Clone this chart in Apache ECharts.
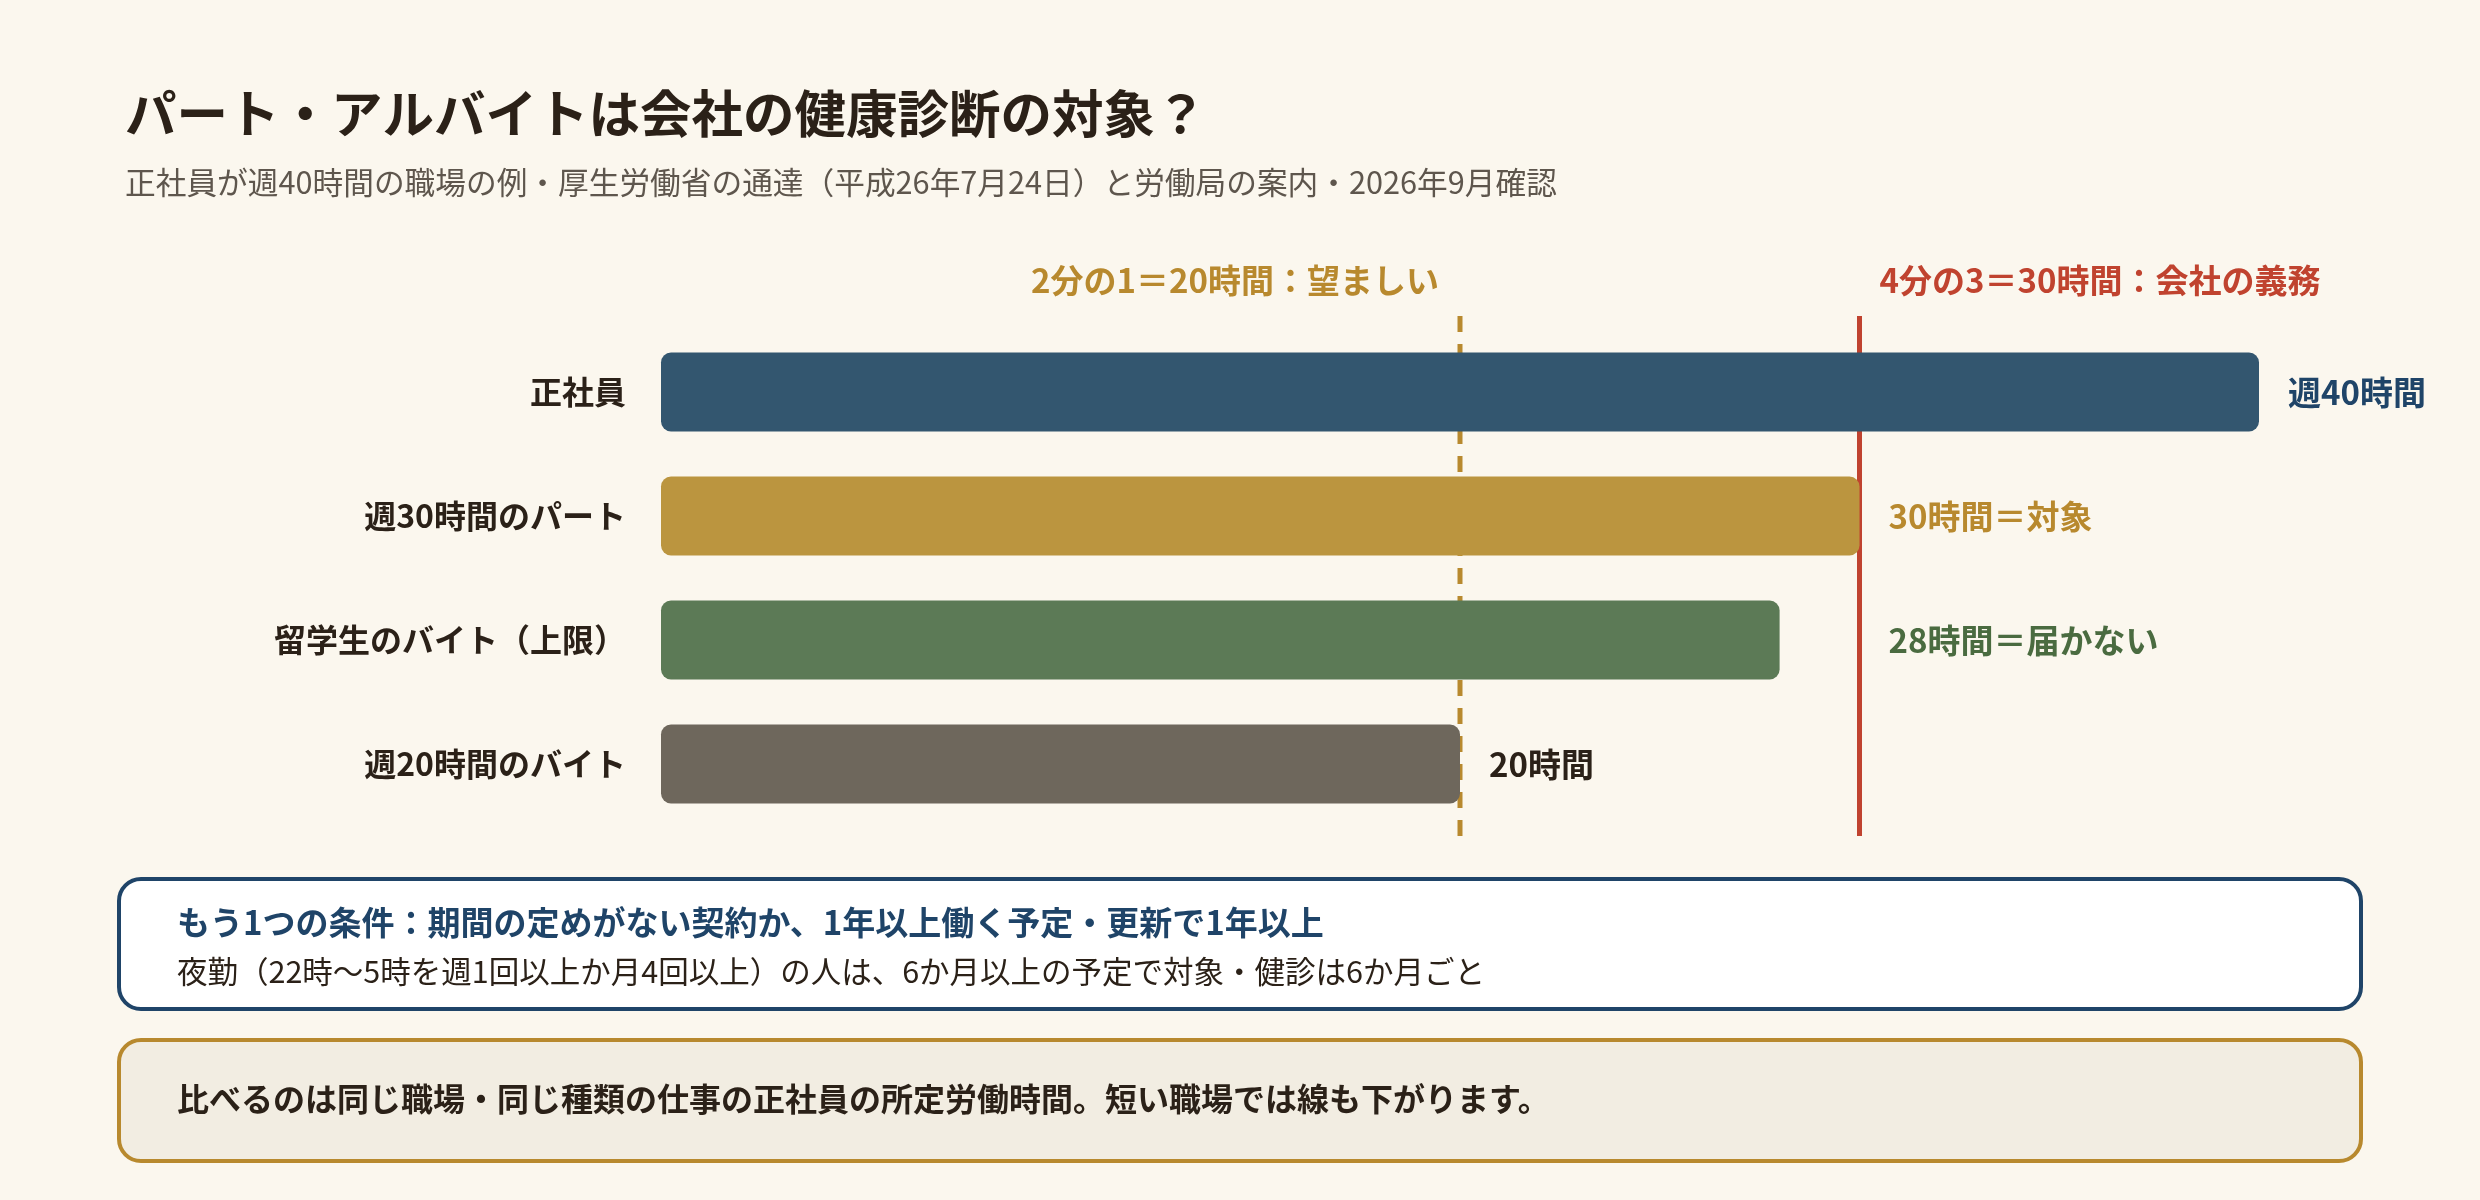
<!DOCTYPE html>
<html lang="ja">
<head>
<meta charset="utf-8">
<title>パート・アルバイトは会社の健康診断の対象？</title>
<script src="https://cdn.jsdelivr.net/npm/echarts@6/dist/echarts.min.js"></script>
<style>
  html, body { margin: 0; padding: 0; background: #fbf7ee; }
  #chart { width: 2480px; height: 1200px; }
</style>
</head>
<body>
<div id="chart"></div>
<script>
// ---- data ----
const categories = ['正社員', '週30時間のパート', '留学生のバイト（上限）', '週20時間のバイト'];
const hours = [40, 30, 28, 20];
const valueLabels = ['週40時間', '30時間＝対象', '28時間＝届かない', '20時間'];
const thresholds = [20, 30];
const thresholdLabels = ['2分の1＝20時間：望ましい', '4分の3＝30時間：会社の義務'];
const titleText = 'パート・アルバイトは会社の健康診断の対象？';
const subtitleText = '正社員が週40時間の職場の例・厚生労働省の通達（平成26年7月24日）と労働局の案内・2026年9月確認';
const note1Title = 'もう1つの条件：期間の定めがない契約か、1年以上働く予定・更新で1年以上';
const note1Body = '夜勤（22時〜5時を週1回以上か月4回以上）の人は、6か月以上の予定で対象・健診は6か月ごと';
const note2Text = '比べるのは同じ職場・同じ種類の仕事の正社員の所定労働時間。短い職場では線も下がります。';

// ---- styles ----
const FONT = "'Noto Sans CJK JP', 'Noto Sans', sans-serif";
const barColors = ['#33566f', '#bb953f', '#5c7a56', '#6e675c'];
const labelColors = ['#1f4468', '#b8892e', '#4a6b40', '#2b2118'];
const lineColors = ['#b8892e', '#c0432f'];
const DARK = '#2b2118';

const chart = echarts.init(document.getElementById('chart'));

function buildBarData(offsets) {
  return hours.map((v, i) => ({
    value: v,
    itemStyle: { color: barColors[i], borderRadius: 10 },
    label: { color: labelColors[i], offset: [offsets[i], 0] }
  }));
}

const option = {
  backgroundColor: '#fbf7ee',
  textStyle: { fontFamily: FONT },
  title: {
    text: titleText,
    subtext: subtitleText,
    left: 120,
    top: 77,
    itemGap: 18,
    textStyle: { fontFamily: FONT, fontSize: 51.5, fontWeight: 'bold', color: DARK, lineHeight: 62 },
    subtextStyle: { fontFamily: FONT, fontSize: 30.7, color: '#5e564d', lineHeight: 40 }
  },
  grid: { left: 661, right: 221, top: 330, bottom: 374, containLabel: false },
  xAxis: {
    type: 'value', min: 0, max: 40, interval: 10, show: false
  },
  yAxis: {
    type: 'category', data: categories, inverse: true,
    axisLine: { show: false }, axisTick: { show: false },
    axisLabel: { fontFamily: FONT, fontSize: 32, fontWeight: 'bold', color: DARK, margin: 35 }
  },
  series: [
    {
      type: 'custom',
      name: 'thresholds',
      z: 1,
      clip: false,
      silent: true,
      data: thresholds.map((t, i) => [t, i]),
      encode: { x: 0 },
      renderItem: function (params, api) {
        const idx = api.value(1);
        const x = api.coord([api.value(0), 0])[0];
        const cs = params.coordSys;
        const dashed = idx === 0;
        return {
          type: 'group',
          children: [
            {
              type: 'line',
              shape: { x1: x, y1: cs.y - 14, x2: x, y2: cs.y + cs.height + 10 },
              style: { stroke: lineColors[idx], lineWidth: 5, lineDash: dashed ? [16, 12] : null }
            },
            {
              type: 'text',
              style: {
                text: thresholdLabels[idx],
                x: dashed ? x - 21 : x + 20,
                y: cs.y - 50,
                align: dashed ? 'right' : 'left',
                verticalAlign: 'middle',
                font: 'bold 33px ' + FONT,
                fill: lineColors[idx]
              }
            }
          ]
        };
      }
    },
    {
      type: 'bar',
      name: '週の労働時間',
      z: 2,
      barWidth: 79,
      data: buildBarData(hours.map(() => 0)),
      label: {
        show: true,
        position: 'right',
        distance: 29,
        fontFamily: FONT,
        fontSize: 33,
        fontWeight: 'bold',
        formatter: p => valueLabels[p.dataIndex]
      }
    }
  ],
  graphic: [
    {
      type: 'rect', z: 0,
      shape: { x: 119, y: 879, width: 2242, height: 130, r: 22 },
      style: { fill: '#ffffff', stroke: '#1f4468', lineWidth: 4 }
    },
    {
      type: 'text', z: 1,
      style: { text: note1Title, x: 177, y: 922, verticalAlign: 'middle', font: 'bold 33px ' + FONT, fill: '#1f4468' }
    },
    {
      type: 'text', z: 1,
      style: { text: note1Body, x: 177, y: 971, verticalAlign: 'middle', font: '30.5px ' + FONT, fill: DARK }
    },
    {
      type: 'rect', z: 0,
      shape: { x: 119, y: 1040, width: 2242, height: 121, r: 22 },
      style: { fill: '#f2ede2', stroke: '#b8892e', lineWidth: 4 }
    },
    {
      type: 'text', z: 1,
      style: { text: note2Text, x: 177, y: 1099, verticalAlign: 'middle', font: 'bold 32px ' + FONT, fill: DARK }
    }
  ]
};

chart.setOption(option);

// Labels of bars that end between the two lines are moved past the 30h line.
const px = v => chart.convertToPixel({ xAxisIndex: 0 }, v);
const offsets = hours.map(v => {
  const anchor = (v > thresholds[0] && v < thresholds[1]) ? thresholds[1] : v;
  return px(anchor) - px(v);
});
chart.setOption({ series: [{}, { data: buildBarData(offsets) }] });
</script>
</body>
</html>
